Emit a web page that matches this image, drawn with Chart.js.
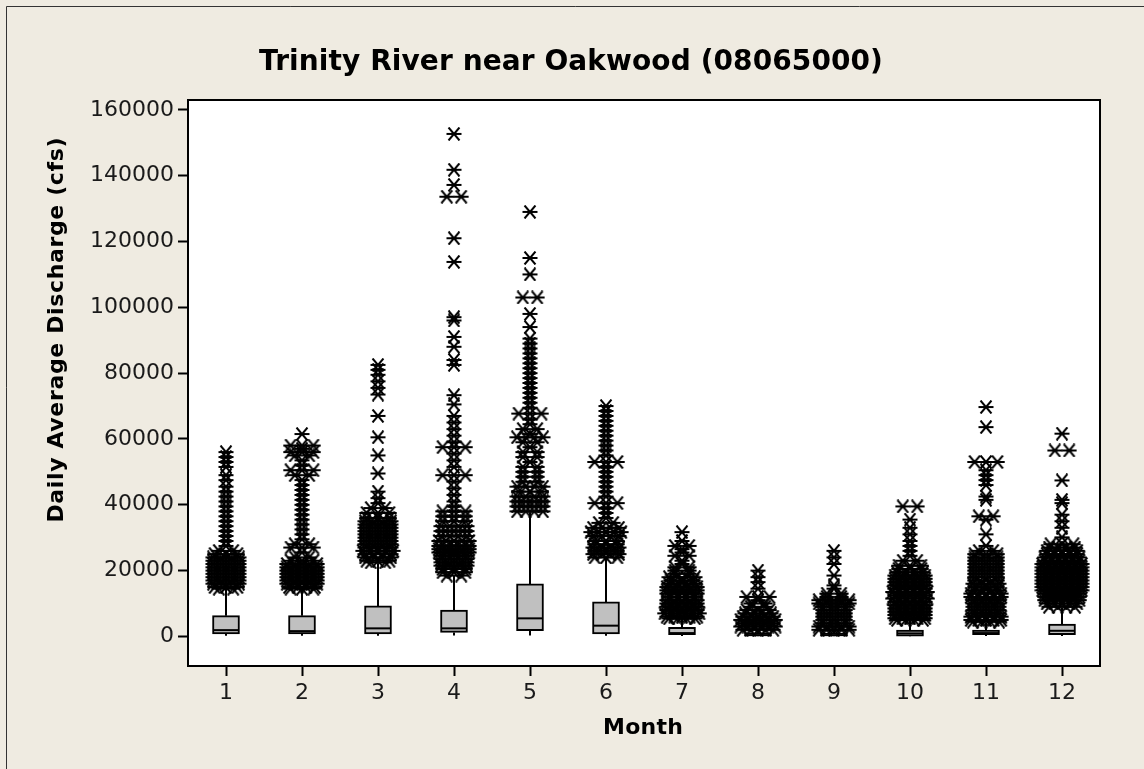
<!DOCTYPE html>
<html>
<head>
<meta charset="utf-8">
<script src="https://cdn.jsdelivr.net/npm/chart.js@4"></script>
<style>
body { margin: 0; background: #efebe1; }
canvas { display: block; }
</style>
</head>
<body>
<canvas id="boxChart" width="1144" height="769"></canvas>
<script>
// month categories and axis ticks
var months = [1, 2, 3, 4, 5, 6, 7, 8, 9, 10, 11, 12];
var monthLabels = ['1', '2', '3', '4', '5', '6', '7', '8', '9', '10', '11', '12'];
var yTicks = [0, 20000, 40000, 60000, 80000, 100000, 120000, 140000, 160000];
var yTickLabels = ['0', '20000', '40000', '60000', '80000', '100000', '120000', '140000', '160000'];

// box statistics per month (cfs)
var q1Values = [730, 730, 730, 1200, 1730, 730, 520, 150, 150, 100, 520, 520];
var medianValues = [1900, 1600, 2440, 2440, 5480, 3260, 1000, 400, 400, 900, 1000, 1700];
var q3Values = [6300, 6300, 9250, 8000, 15950, 10470, 2740, 900, 900, 1950, 1950, 3770];
var whiskerLow = [200, 200, 200, 300, 300, 200, 100, 50, 50, 50, 100, 100];
var whiskerHigh = [14500, 14500, 22000, 18500, 37500, 24000, 5500, 1900, 1900, 4800, 4200, 8600];

// outliers: [cfs, how many symbols sit side by side at that level]
var outJan = [[56000,1],[54500,1],[53000,1],[51500,1],[49000,1],[47500,1],[45500,1],[44000,1],[42500,1],[41000,1],[39500,1],[38000,1],[36500,1],[35000,1],[33500,1],[32000,1],[30500,1],[29000,1],[27500,1],[26000,2],[25000,3],[24000,4],[23000,4],[22000,4],[21000,4],[20000,4],[19000,4],[18000,4],[17000,4],[16000,4],[15000,3],[14500,2]];
var outFeb = [[61500,1],[58000,3],[57000,1],[56000,3],[55000,2],[53500,1],[52000,1],[50500,3],[49000,2],[47500,1],[46000,1],[44500,1],[43000,1],[41500,1],[40000,1],[38500,1],[37000,1],[35500,1],[34000,1],[32500,1],[31000,1],[29500,1],[28000,2],[27000,3],[25500,1],[24000,2],[23000,3],[22000,5],[21000,5],[20000,5],[19000,5],[18000,5],[17000,5],[16000,5],[15000,4],[14500,3]];
var outMar = [[82500,1],[81000,1],[79500,1],[77500,1],[75500,1],[73500,1],[67000,1],[60500,1],[55000,1],[49500,1],[44000,1],[42000,1],[40500,1],[39000,2],[37500,3],[36000,3],[35000,4],[34000,4],[33000,4],[32000,4],[31000,4],[30000,4],[29000,4],[28000,4],[27000,4],[26000,5],[25000,4],[24000,4],[23000,3],[22500,2]];
var outApr = [[152700,1],[141800,1],[137200,1],[133600,2],[121000,1],[113800,1],[97000,1],[96000,1],[91000,1],[88000,1],[84000,1],[82500,1],[73300,1],[70500,1],[67000,1],[65000,1],[63000,1],[61000,1],[59000,1],[57500,3],[55500,1],[53500,1],[51500,1],[49000,3],[47000,1],[45000,1],[43000,1],[41000,1],[39500,1],[38000,3],[36500,3],[35000,3],[33500,4],[32000,4],[30500,4],[29000,5],[27500,5],[26500,5],[25500,5],[24500,4],[23500,4],[22500,4],[21500,4],[20500,3],[19500,3],[18500,2]];
var outMay = [[129000,1],[115000,1],[110000,1],[103000,2],[98000,1],[94000,1],[90500,1],[89000,1],[87500,1],[86000,1],[84500,1],[83000,1],[81500,1],[80000,1],[78500,1],[77000,1],[75500,1],[74000,1],[72500,1],[71000,1],[69500,1],[67700,3],[66000,1],[64500,1],[63000,2],[61500,1],[60500,4],[59000,2],[57500,1],[56000,2],[54500,2],[53000,1],[51500,2],[50000,2],[48500,2],[47000,2],[45500,4],[44000,3],[42500,4],[41000,4],[39500,4],[38000,4]];
var outJun = [[70000,1],[68500,1],[67000,1],[65500,1],[64000,1],[62500,1],[61000,1],[59500,1],[58000,1],[56500,1],[55000,1],[53000,3],[51500,1],[50000,1],[48500,1],[47000,1],[45500,1],[44000,1],[42500,1],[40500,3],[39000,1],[37500,1],[36000,1],[34500,2],[33000,4],[31700,5],[30500,4],[29000,3],[28000,3],[27000,4],[26000,3],[25000,4],[24000,3]];
var outJul = [[31700,1],[29000,1],[27500,2],[26500,1],[25500,1],[24500,2],[23000,1],[22000,1],[21000,2],[20000,2],[19000,2],[18000,4],[17000,3],[16000,4],[15000,5],[14000,5],[13000,5],[12000,4],[11000,5],[10000,5],[9000,5],[8000,5],[7000,6],[6000,5],[5500,4]];
var outAug = [[20000,1],[18000,1],[16500,1],[14500,1],[12000,3],[11000,1],[10000,2],[9000,2],[8000,3],[7000,4],[6000,5],[5000,6],[4000,5],[3000,6],[2000,5]];
var outSep = [[26000,1],[24000,1],[22000,1],[18500,1],[15500,1],[14500,1],[13000,2],[12000,2],[11000,5],[10000,5],[9000,3],[8000,3],[7000,3],[6000,3],[5000,3],[4000,3],[3000,5],[2000,5]];
var outOct = [[39500,2],[35500,1],[33000,1],[31000,1],[29000,1],[27500,1],[26000,1],[24500,1],[23000,2],[21500,3],[20500,3],[19500,4],[18500,5],[17500,5],[16500,5],[15500,5],[14500,5],[13500,6],[12500,5],[11500,6],[10500,5],[9500,5],[8500,5],[7500,5],[6500,5],[5500,5],[5000,4]];
var outNov = [[69700,1],[63600,1],[53000,3],[50500,1],[49000,1],[47500,1],[46000,1],[42500,1],[41500,1],[36500,2],[35500,1],[31000,1],[27500,1],[26000,2],[25000,3],[24000,3],[23000,3],[22000,3],[21000,3],[20000,3],[19000,3],[18000,3],[17000,3],[16000,4],[15000,3],[14000,4],[13000,5],[12000,5],[11000,4],[10000,4],[9000,4],[8000,4],[7000,4],[6000,5],[5000,5],[4500,4]];
var outDec = [[61600,1],[56500,2],[47400,1],[41500,1],[40500,1],[37000,1],[35000,1],[33000,1],[30100,1],[28000,3],[27000,4],[26000,5],[25000,5],[24000,6],[23000,6],[22000,7],[21000,7],[20000,7],[19000,7],[18000,7],[17000,7],[16000,7],[15000,7],[14000,7],[13000,6],[12000,6],[11000,6],[10000,5],[9000,4]];

var allOutliers = [outJan, outFeb, outMar, outApr, outMay, outJun, outJul, outAug, outSep, outOct, outNov, outDec];

// total spread (in month units) used for a row of n symbols
var rowWidths = [0, 0, 0.19, 0.30, 0.34, 0.40, 0.46, 0.52];

var tickFont = { family: "'DejaVu Sans', sans-serif", size: 22 };

function outlierPoints() {
    var pts = [];
    allOutliers.forEach(function(rows, i) {
        var m = months[i];
        rows.forEach(function(r) {
            var n = r[1];
            var w = rowWidths[n];
            for (var k = 0; k < n; k++) {
                var off = n > 1 ? -w / 2 + w * k / (n - 1) : 0;
                pts.push({ x: m + off, y: r[0] });
            }
        });
    });
    return pts;
}

function whiskerPoints() {
    var pts = [];
    months.forEach(function(m, i) {
        pts.push({ x: m, y: q3Values[i] }, { x: m, y: whiskerHigh[i] }, { x: m, y: null });
        pts.push({ x: m, y: whiskerLow[i] }, { x: m, y: q1Values[i] }, { x: m, y: null });
    });
    return pts;
}

function makeAsterisk() {
    var c = document.createElement('canvas');
    c.width = 16;
    c.height = 14;
    var g = c.getContext('2d');
    g.strokeStyle = '#000';
    g.lineWidth = 2;
    g.beginPath();
    g.moveTo(0.5, 7); g.lineTo(15.5, 7);
    g.moveTo(2.5, 0.5); g.lineTo(13.5, 13.5);
    g.moveTo(2.5, 13.5); g.lineTo(13.5, 0.5);
    g.stroke();
    return c;
}

function fittedText(ctx, text, x, y, targetWidth) {
    ctx.letterSpacing = '0px';
    var w = ctx.measureText(text).width;
    var sp = (targetWidth - w) / (text.length - 1);
    ctx.letterSpacing = sp.toFixed(2) + 'px';
    ctx.fillText(text, x + sp / 2, y);
    ctx.letterSpacing = '0px';
}

var backdrop = {
    id: 'backdrop',
    beforeDraw: function(chart) {
        var ctx = chart.ctx, a = chart.chartArea;
        ctx.save();
        ctx.fillStyle = '#efebe1';
        ctx.fillRect(0, 0, chart.width, chart.height);
        ctx.strokeStyle = '#333';
        ctx.lineWidth = 1;
        ctx.beginPath();
        ctx.moveTo(6.5, chart.height);
        ctx.lineTo(6.5, 6.5);
        ctx.lineTo(chart.width, 6.5);
        ctx.stroke();
        ctx.fillStyle = '#ffffff';
        ctx.fillRect(a.left, a.top, a.right - a.left, a.bottom - a.top);
        ctx.restore();
    },
    afterDraw: function(chart) {
        var ctx = chart.ctx, a = chart.chartArea;
        ctx.save();
        ctx.strokeStyle = '#000';
        ctx.lineWidth = 2;
        ctx.strokeRect(a.left, a.top, a.right - a.left, a.bottom - a.top);
        ctx.fillStyle = '#000';
        ctx.textAlign = 'center';
        ctx.textBaseline = 'middle';
        ctx.font = "bold 28px 'DejaVu Sans', sans-serif";
        fittedText(ctx, 'Trinity River near Oakwood (08065000)', 571, 63, 624);
        ctx.font = "bold 22px 'DejaVu Sans', sans-serif";
        fittedText(ctx, 'Month', 643, 728, 80);
        ctx.translate(57, 330);
        ctx.rotate(-Math.PI / 2);
        fittedText(ctx, 'Daily Average Discharge (cfs)', 0, 0, 385);
        ctx.restore();
    }
};

var canvas = document.getElementById('boxChart');
var chart = new Chart(canvas, {
    type: 'scatter',
    data: {
        datasets: [{
            label: 'Outliers',
            data: outlierPoints(),
            pointStyle: makeAsterisk(),
            pointRadius: 7,
            order: 0
        }, {
            label: 'Median',
            data: months.map(function(m, i) { return { x: m, y: medianValues[i] }; }),
            pointStyle: 'line',
            pointRadius: 13,
            pointBorderWidth: 2,
            borderColor: '#000',
            order: 1
        }, {
            type: 'bar',
            label: 'IQR box',
            data: months.map(function(m, i) { return { x: m, y: [q1Values[i], q3Values[i]] }; }),
            backgroundColor: '#c0c0c0',
            borderColor: '#000',
            borderWidth: 2,
            borderSkipped: false,
            barThickness: 27,
            order: 2
        }, {
            type: 'line',
            label: 'Whiskers',
            data: whiskerPoints(),
            borderColor: '#000',
            borderWidth: 2,
            pointRadius: 0,
            spanGaps: false,
            order: 3
        }]
    },
    options: {
        responsive: false,
        animation: false,
        layout: {
            padding: { top: 100, right: 44, left: 0, bottom: 0 }
        },
        plugins: {
            legend: { display: false },
            tooltip: { enabled: false }
        },
        scales: {
            x: {
                type: 'linear',
                min: 0.5,
                max: 12.5,
                offset: false,
                afterBuildTicks: function(scale) {
                    scale.ticks = months.map(function(v) { return { value: v }; });
                },
                afterFit: function(scale) { scale.height = 103; },
                ticks: {
                    autoSkip: false,
                    maxRotation: 0,
                    padding: 4,
                    color: '#1a1a1a',
                    font: tickFont,
                    callback: function(v, i) { return monthLabels[i]; }
                },
                grid: {
                    offset: false,
                    drawOnChartArea: false,
                    tickLength: 10,
                    tickColor: '#000',
                    tickWidth: 2
                },
                border: { color: '#000', width: 2 }
            },
            y: {
                min: -9000,
                max: 163000,
                afterBuildTicks: function(scale) {
                    scale.ticks = yTicks.map(function(v) { return { value: v }; });
                },
                afterFit: function(scale) { scale.width = 188; },
                ticks: {
                    padding: 4,
                    color: '#1a1a1a',
                    font: tickFont,
                    callback: function(v, i) { return yTickLabels[i]; }
                },
                grid: {
                    drawOnChartArea: false,
                    tickLength: 10,
                    tickColor: '#000',
                    tickWidth: 2
                },
                border: { color: '#000', width: 2 }
            }
        }
    },
    plugins: [backdrop]
});
</script>
</body>
</html>
